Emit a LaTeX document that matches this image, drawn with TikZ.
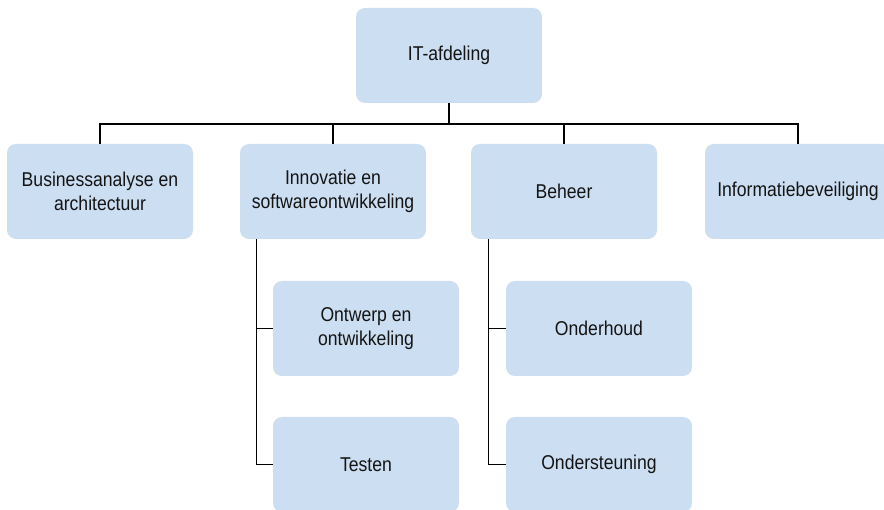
\documentclass[tikz,border=0pt]{standalone}
\usepackage{fontspec}
\setmainfont[FakeStretch=0.88]{Liberation Sans}
\definecolor{boxblue}{HTML}{CCDEF1}
\definecolor{boxtext}{HTML}{141414}
\tikzset{
	unit/.style={fill=boxblue, rounded corners=9pt, minimum width=186pt, minimum height=95pt,
		inner sep=0pt, align=center, text=boxtext, font=\fontsize{20}{24}\selectfont},
	link/.style={line width=1.1pt, color=black}
}

\begin{document}
\begin{tikzpicture}[x=1pt, y=-1pt]
			%%%%% START %%%%%
			\useasboundingbox (0, 0) rectangle (884, 510);
			
			\node[unit] (itafd) at (449, 55.5) {IT-afdeling};
			
			\node[unit] (busan) at (100, 191.5) {Businessanalyse en\\architectuur};
			\node[unit] (innov) at (333, 191.5) {Innovatie en\\softwareontwikkeling};
			\node[unit] (beheer) at (564, 191.5) {Beheer};
			\node[unit] (infobev) at (798, 191.5) {Informatiebeveiliging};
			
			\node[unit] (ontwerp) at (366, 328.5) {Ontwerp en\\ontwikkeling};
			\node[unit] (testen) at (366, 464.5) {Testen};
			\node[unit] (onderh) at (599, 328.5) {Onderhoud};
			\node[unit] (onderst) at (599, 464.5) {Ondersteuning};
			
			\coordinate (spine) at (449, 124);
			\draw[link] (itafd.south) -- (spine);
			\draw[link] (spine) -| (busan.north);
			\draw[link] (spine) -| (innov.north);
			\draw[link] (spine) -| (beheer.north);
			\draw[link] (spine) -| (infobev.north);
			
			\draw[link] ([xshift=17pt]innov.south west) |- (ontwerp.west);
			\draw[link] ([xshift=17pt]innov.south west) |- (testen.west);
			\draw[link] ([xshift=18pt]beheer.south west) |- (onderh.west);
			\draw[link] ([xshift=18pt]beheer.south west) |- (onderst.west);
			%%%%% END %%%%%
\end{tikzpicture}
\end{document}
